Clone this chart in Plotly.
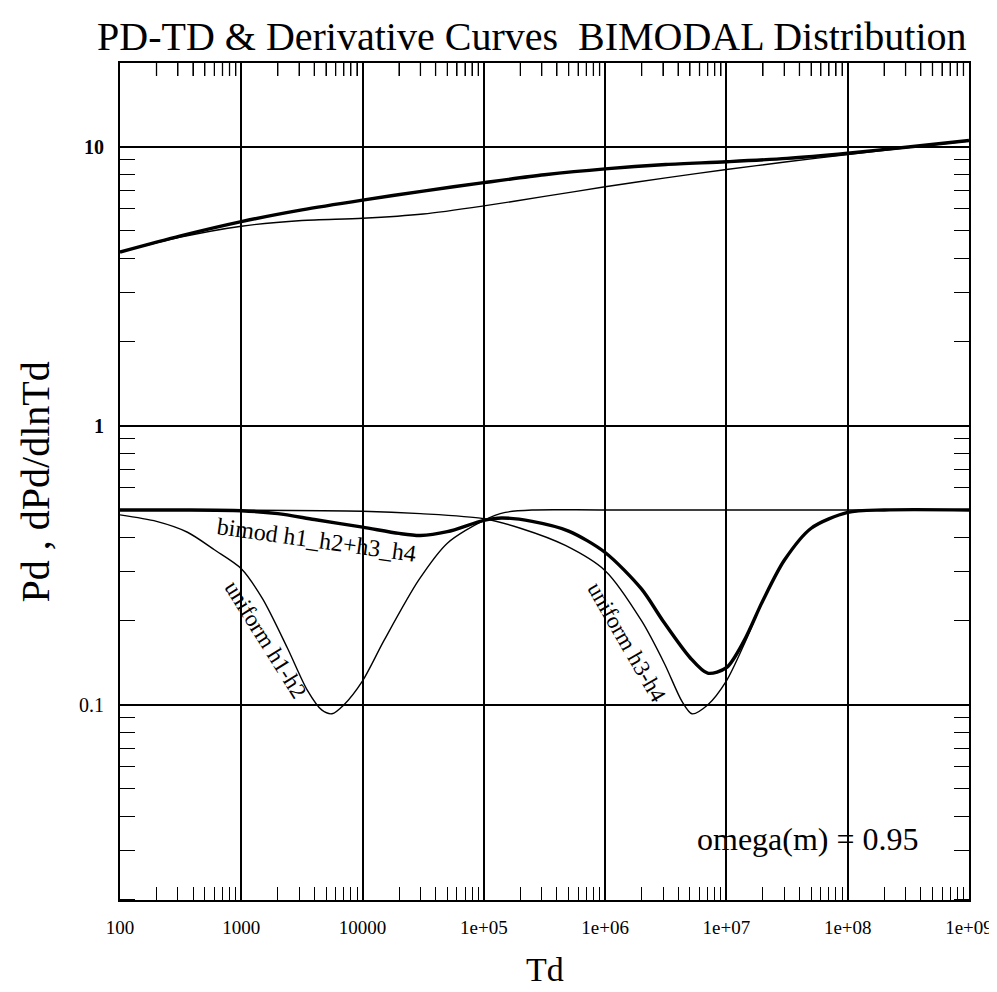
import plotly.graph_objects as go

# ---- data ----
td_pd = [1e2, 3.16e2, 1e3, 3.16e3, 1e4, 3.16e4, 1e5, 3.16e5, 1e6, 3.16e6, 1e7, 3.16e7, 1e8, 3.16e8, 1e9]
pd_bimodal = [4.2, 4.8, 5.4, 5.95, 6.45, 6.95, 7.45, 7.95, 8.35, 8.65, 8.85, 9.1, 9.5, 10.0, 10.55]
pd_uniform12 = [4.2, 4.75, 5.2, 5.45, 5.55, 5.75, 6.15, 6.65, 7.2, 7.75, 8.3, 8.85, 9.4, 9.95, 10.5]

td_bim = [1e2, 3e2, 1e3, 2e3, 4e3, 1e4, 2e4, 3e4, 5e4, 1e5, 1.4e5, 2.5e5, 5e5, 1e6, 2e6, 3e6, 5e6, 7e6, 1e7, 1.4e7, 2e7, 3e7, 5e7, 1e8, 2e8, 1e9]
d_bimodal = [0.5, 0.5, 0.497, 0.485, 0.462, 0.434, 0.412, 0.405, 0.418, 0.459, 0.468, 0.455, 0.42, 0.352, 0.26, 0.2, 0.148, 0.13, 0.136, 0.17, 0.237, 0.33, 0.43, 0.49, 0.5, 0.5]

td_u12 = [1e2, 2e2, 3.6e2, 6e2, 1e3, 1.5e3, 2.4e3, 3.5e3, 4.6e3, 5.6e3, 7e3, 1e4, 1.5e4, 2.9e4, 5e4, 1e5, 1.5e5, 2.5e5, 1e6, 1e9]
d_uniform12 = [0.48, 0.455, 0.416, 0.36, 0.308, 0.24, 0.16, 0.113, 0.096, 0.093, 0.1, 0.122, 0.17, 0.28, 0.38, 0.459, 0.49, 0.5, 0.5, 0.5]

td_u34 = [1e2, 1e4, 3e4, 1e5, 2e5, 4.7e5, 1e6, 2e6, 3.1e6, 4.3e6, 5.2e6, 7e6, 1e7, 1.4e7, 2e7, 3e7, 5e7, 1e8, 2e8, 1e9]
d_uniform34 = [0.5, 0.495, 0.485, 0.465, 0.43, 0.373, 0.303, 0.2, 0.14, 0.103, 0.093, 0.1, 0.122, 0.165, 0.237, 0.33, 0.43, 0.49, 0.5, 0.5]

x_tickvals = [1e2, 1e3, 1e4, 1e5, 1e6, 1e7, 1e8, 1e9]
x_ticktext = ["100", "1000", "10000", "1e+05", "1e+06", "1e+07", "1e+08", "1e+09"]
y_tickvals = [0.1, 1, 10]
y_ticktext = ["0.1", "<b>1</b>", "<b>10</b>"]

FONT = "Liberation Serif"
thin = dict(color="black", width=1.4, shape="spline", smoothing=0.8)
thick = dict(color="black", width=3.4, shape="spline", smoothing=0.8)

fig = go.Figure()
fig.add_trace(go.Scatter(x=td_pd, y=pd_uniform12, mode="lines", line=thin))
fig.add_trace(go.Scatter(x=td_pd, y=pd_bimodal, mode="lines", line=thick))
fig.add_trace(go.Scatter(x=td_u12, y=d_uniform12, mode="lines", line=thin))
fig.add_trace(go.Scatter(x=td_u34, y=d_uniform34, mode="lines", line=thin))
fig.add_trace(go.Scatter(x=td_bim, y=d_bimodal, mode="lines", line=thick))

minor_x = [m * 10**e for e in range(2, 9) for m in range(2, 10)]
minor_y = [m * 10**e for e in range(-2, 2) for m in range(2, 10)]

fig.update_xaxes(
    type="log", range=[2, 9], showline=True, linecolor="black", linewidth=2, mirror="allticks",
    tickmode="array", tickvals=x_tickvals, ticktext=x_ticktext, ticks="", ticklabelstandoff=9,
    showgrid=True, gridcolor="black", gridwidth=1.5, zeroline=False,
    tickfont=dict(family=FONT, size=19, color="black"),
    minor=dict(tickmode="array", tickvals=minor_x, ticks="inside", ticklen=13, tickcolor="black", tickwidth=1.3, showgrid=False),
)
fig.update_yaxes(
    type="log", range=[-1.699, 1.301], showline=True, linecolor="black", linewidth=2, mirror="allticks",
    tickmode="array", tickvals=y_tickvals, ticktext=y_ticktext, ticks="", ticklabelstandoff=10,
    showgrid=True, gridcolor="black", gridwidth=1.5, zeroline=False,
    tickfont=dict(family=FONT, size=20, color="black"),
    minor=dict(tickmode="array", tickvals=minor_y, ticks="inside", ticklen=15, tickcolor="black", tickwidth=1.3, showgrid=False),
)

fig.update_layout(
    width=997, height=992, margin=dict(l=112, r=32, t=55, b=100),
    paper_bgcolor="white", plot_bgcolor="white", showlegend=False,
)

# top-edge minor ticks (inside), placed on the x axis scale
for v in minor_x:
    fig.add_shape(type="line", xref="x", yref="paper", x0=v, x1=v, y0=1, y1=1 - 13 / 837,
                  line=dict(color="black", width=1.3))

fig.add_annotation(text="PD-TD & Derivative Curves  BIMODAL Distribution", xref="paper", yref="paper",
                   x=0.485, y=1.0, yanchor="bottom", yshift=2, showarrow=False,
                   font=dict(family=FONT, size=40, color="black"))
fig.add_annotation(text="Pd , dPd/dlnTd", xref="paper", yref="paper", x=-0.099, y=0.5,
                   xanchor="center", yanchor="middle", textangle=-90, showarrow=False,
                   font=dict(family=FONT, size=40, color="black"))
fig.add_annotation(text="Td", xref="paper", yref="paper", x=0.5, y=-0.083,
                   xanchor="center", yanchor="middle", showarrow=False,
                   font=dict(family=FONT, size=34, color="black"))
fig.add_annotation(text="bimod h1_h2+h3_h4", x=3.62, y=-0.41, xref="x", yref="y", showarrow=False,
                   textangle=8, font=dict(family=FONT, size=24, color="black"))
fig.add_annotation(text="uniform h1-h2", x=3.2, y=-0.765, xref="x", yref="y", showarrow=False,
                   textangle=58, font=dict(family=FONT, size=23, color="black"))
fig.add_annotation(text="uniform h3-h4", x=6.18, y=-0.775, xref="x", yref="y", showarrow=False,
                   textangle=60, font=dict(family=FONT, size=23, color="black"))
fig.add_annotation(text="omega(m) = 0.95", x=7.67, y=-1.48, xref="x", yref="y", showarrow=False,
                   font=dict(family=FONT, size=32, color="black"))

fig.write_html("out.html")
